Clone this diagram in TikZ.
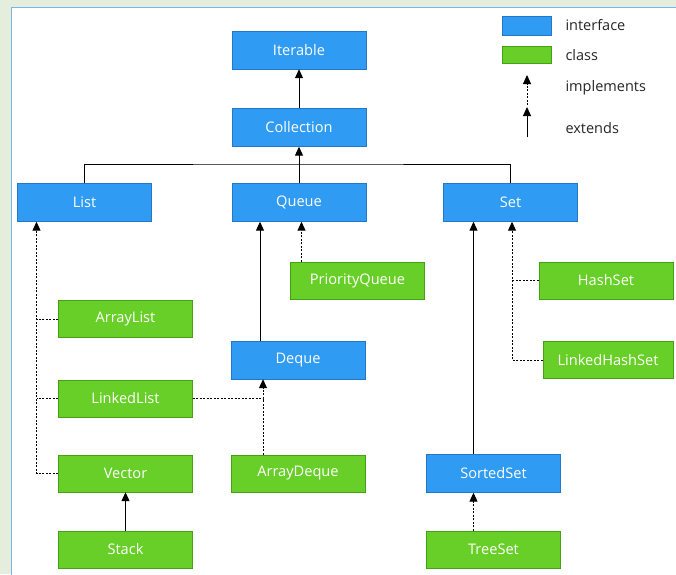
\documentclass[tikz,border=0pt]{standalone}
\usepackage{fontspec}
\setmainfont{Open Sans}
\usepackage{tikz}
\usetikzlibrary{arrows.meta}
\definecolor{ifblue}{RGB}{48,155,242}
\definecolor{ifedge}{RGB}{36,120,200}
\definecolor{clgreen}{RGB}{104,206,40}
\definecolor{cledge}{RGB}{70,160,20}
\definecolor{pagebg}{RGB}{229,238,221}
\definecolor{frameline}{RGB}{125,180,232}

\begin{document}
\begin{tikzpicture}[x=1pt,y=-1pt,
		iface/.style={draw=ifedge,fill=ifblue,text=white,minimum width=134pt,minimum height=38pt,inner sep=0pt,font=\fontsize{14.6}{16}\selectfont},
		cls/.style={draw=cledge,fill=clgreen,text=white,minimum width=134pt,minimum height=37pt,inner sep=0pt,font=\fontsize{14.6}{16}\selectfont},
		ext/.style={-{Triangle[length=9pt,width=8pt]},line width=1pt},
		impl/.style={-{Triangle[length=9pt,width=8pt]},line width=1pt,dash pattern=on 2pt off 1.5pt},
		dotline/.style={line width=1pt,dash pattern=on 2pt off 1.5pt},
		legtext/.style={anchor=west,text=black!85,font=\fontsize{14.5}{16}\selectfont}]
		\useasboundingbox (0,0) rectangle (676,574);
		\fill[pagebg] (0,0) rectangle (676,574);
		\draw[frameline,fill=white,line width=0.8pt] (11,7) rectangle (680,580);
		% interfaces
		\node[iface] (iter) at (299,50) {Iterable};
		\node[iface] (coll) at (299,127.5) {Collection};
		\node[iface] (list) at (84.5,202.5) {List};
		\node[iface] (queue) at (299,202.5) {Queue};
		\node[iface] (set) at (510.5,202.5) {Set};
		\node[iface] (deque) at (298,360) {Deque};
		\node[iface] (sorted) at (493.5,473.5) {SortedSet};
		% classes
		\node[cls] (pqueue) at (357.5,280.5) {PriorityQueue};
		\node[cls] (alist) at (125.5,319) {ArrayList};
		\node[cls] (llist) at (125.5,398.5) {LinkedList};
		\node[cls] (vector) at (125.5,473.5) {Vector};
		\node[cls] (stack) at (125.5,549.5) {Stack};
		\node[cls] (adeque) at (298,473.5) {ArrayDeque};
		\node[cls] (hset) at (606,280.5) {HashSet};
		\node[cls,minimum width=130pt] (lhset) at (608,360) {LinkedHashSet};
		\node[cls] (tset) at (493.5,549.5) {TreeSet};
		% legend
		\node[iface,minimum width=49pt,minimum height=19pt] (legif) at (526.5,25.5) {};
		\node[cls,minimum width=49pt,minimum height=17pt] (legcl) at (526.5,54.5) {};
		\node[legtext] (tif) at (562,25) {interface};
		\node[legtext] (tcl) at (562,55) {class};
		\node[legtext] (tim) at (562,88) {implements};
		\node[legtext] (tex) at (562,128) {extends};
		\coordinate (imtop) at (527,75);
		\coordinate (imbot) at (527,105);
		\coordinate (extop) at (527,107);
		\coordinate (exbot) at (527,137);
		\draw[impl] (imbot) -- (imtop);
		\draw[ext] (exbot) -- (extop);
		% trunks of the dotted lines
		\coordinate (listtrunk) at ([xshift=-48pt]list.south);
		\coordinate (dequetrunk) at ([xshift=-35pt]deque.south);
		\coordinate (settrunk) at ([xshift=1.5pt]set.south);
		% extends
		\coordinate (bus) at (299,164);
		\draw[ext] (coll) -- (iter);
		\draw[line width=1pt] (list.north) |- (bus) -| (set.north);
		\draw[ext] (queue) -- (coll);
		\draw[ext] ([xshift=-38pt]deque.north) -- ([xshift=-38pt]deque.north |- queue.south);
		\draw[ext] ([xshift=-20pt]sorted.north) -- ([xshift=-20pt]sorted.north |- set.south);
		\draw[ext] (stack) -- (vector);
		% implements
		\draw[impl] ([xshift=-56pt]pqueue.north) -- ([xshift=-56pt]pqueue.north |- queue.south);
		\draw[impl] (vector.west) -| (listtrunk);
		\draw[dotline] (alist.west) -- (alist.west -| listtrunk);
		\draw[dotline] (llist.west) -- (llist.west -| listtrunk);
		\draw[impl] (llist.east) -| (dequetrunk);
		\draw[dotline] ([xshift=-35pt]adeque.north) -- ([xshift=-35pt]adeque.north |- llist.east);
		\draw[impl] (lhset.west) -| (settrunk);
		\draw[dotline] (hset.west) -- (hset.west -| settrunk);
		\draw[impl] ([xshift=-20pt]tset.north) -- ([xshift=-20pt]sorted.south);
	\end{tikzpicture}
\end{document}
